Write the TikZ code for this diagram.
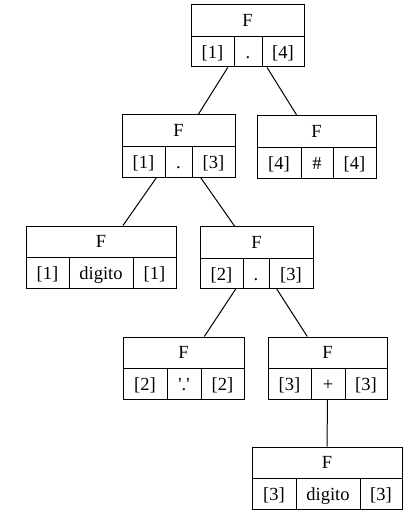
\documentclass[tikz,border=0pt]{standalone}
\usepackage{fontspec}
\setmainfont{Liberation Serif}
\begin{document}
\begin{tikzpicture}[x=1pt,y=-1pt,
  recbox/.style={draw, line width=1pt, inner sep=0pt},
  recline/.style={line width=1pt},
  cell/.style={anchor=base, inner sep=0pt, font=\fontsize{18.5}{20}\selectfont},
  edge/.style={line width=1pt}]
\useasboundingbox (0,0) rectangle (415,516);

% \record{name}{x left}{divider 1}{divider 2}{x right}{y top}{left}{middle}{right}
\newcommand\record[9]{%
  \node[recbox, minimum width={(#5-#2)*1pt}, minimum height=62pt]
    (#1) at ({(#2+#5)/2},{#6+31}) {};
  \draw[recline] ({#2},{#6+31.5}) -- ({#5},{#6+31.5});
  \draw[recline] ({#3},{#6+31.5}) -- ({#3},{#6+62});
  \draw[recline] ({#4},{#6+31.5}) -- ({#4},{#6+62});
  \node[cell] (#1-f) at ({(#2+#5)/2},{#6+21.5}) {F};
  \node[cell] (#1-l) at ({(#2+#3)/2},{#6+53.5}) {#7};
  \node[cell] (#1-m) at ({(#3+#4)/2},{#6+53.5}) {#8};
  \node[cell] (#1-r) at ({(#4+#5)/2},{#6+53.5}) {#9};
}

\record{root}{191}{234}{262}{304}{5}{[1]}{.}{[4]}
\record{a}{122}{165}{192}{235}{115}{[1]}{.}{[3]}
\record{b}{257}{301}{333}{376}{116}{[4]}{\#}{[4]}
\record{c}{26}{69}{133}{176}{226}{[1]}{digito}{[1]}
\record{d}{200}{243}{269}{313}{226.5}{[2]}{.}{[3]}
\record{e}{123}{167}{201}{244}{337}{[2]}{\textquotesingle.\textquotesingle}{[2]}
\record{g}{268}{311}{345}{387}{337}{[3]}{+}{[3]}
\record{h}{252}{296}{360}{402}{447}{[3]}{digito}{[3]}

\draw[edge] (root) -- (a);
\draw[edge] (root) -- (b);
\draw[edge] (a) -- (c);
\draw[edge] (a) -- (d);
\draw[edge] (d) -- (e);
\draw[edge] (d) -- (g);
\draw[edge] (g) -- (h);
\end{tikzpicture}
\end{document}
